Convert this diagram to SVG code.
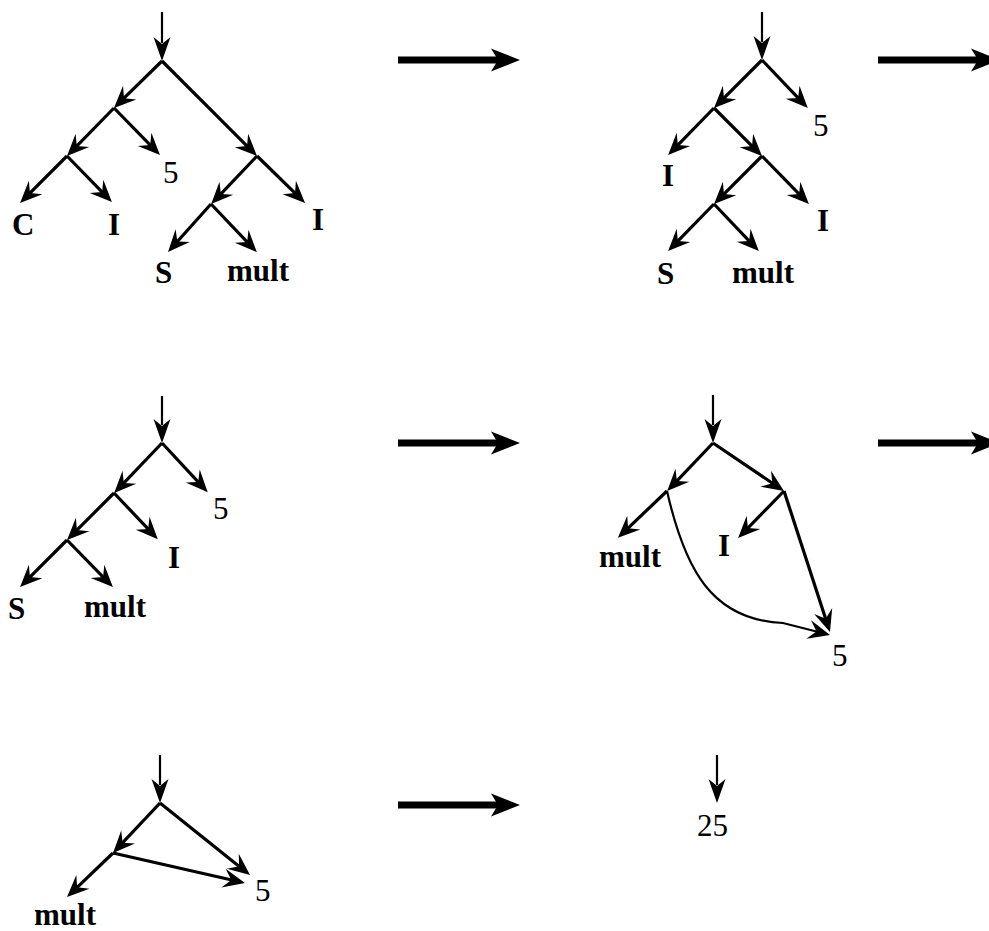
<svg xmlns="http://www.w3.org/2000/svg" width="989" height="931" viewBox="0 0 989 931">
<style>
.b{fill:none;stroke:#000;stroke-width:3.2;marker-end:url(#hb)}
.c{fill:none;stroke:#000;stroke-width:2.2;marker-end:url(#hb)}
.v{fill:none;stroke:#000;stroke-width:2.2;marker-end:url(#hv)}
.m{fill:none;stroke:#000;stroke-width:7;marker-end:url(#hm)}
text{font-family:"Liberation Serif","Times New Roman",serif;font-size:31px;fill:#000}
.L{font-weight:bold}
</style>
<defs>
<marker id="hb" markerUnits="userSpaceOnUse" markerWidth="40" markerHeight="40" refX="20" refY="20" orient="auto" overflow="visible"><path d="M29,20 L7,10.5 L15,20 L7,29.5 Z" fill="#000"/></marker>
<marker id="hv" markerUnits="userSpaceOnUse" markerWidth="40" markerHeight="40" refX="20" refY="20" orient="auto" overflow="visible"><path d="M38,20 L14,11.5 L21,20 L14,28.5 Z" fill="#000"/></marker>
<marker id="hm" markerUnits="userSpaceOnUse" markerWidth="50" markerHeight="40" refX="20" refY="20" orient="auto" overflow="visible"><path d="M38,20 L9,8.5 L16,20 L9,31.5 Z" fill="#000"/></marker>
</defs>
<g id="connectors">
<line class="m" x1="398" y1="60" x2="502" y2="60"/>
<line class="m" x1="878" y1="60" x2="982" y2="60"/>
<line class="m" x1="398" y1="443" x2="502" y2="443"/>
<line class="m" x1="878" y1="443" x2="982" y2="443"/>
<line class="m" x1="398" y1="805" x2="502" y2="805"/>
<line class="v" x1="162" y1="12" x2="162" y2="43"/>
<line class="b" x1="162" y1="61" x2="120.4" y2="101.7"/>
<line class="b" x1="114" y1="108" x2="153.7" y2="148.6"/>
<line class="b" x1="114" y1="108" x2="73.3" y2="149.6"/>
<line class="b" x1="67" y1="156" x2="26.4" y2="196.6"/>
<line class="b" x1="67" y1="156" x2="105.6" y2="195.6"/>
<line class="b" x1="162" y1="61" x2="250.6" y2="149.6"/>
<line class="b" x1="257" y1="156" x2="217.4" y2="197.6"/>
<line class="b" x1="257" y1="156" x2="298.6" y2="196.6"/>
<line class="b" x1="211" y1="204" x2="174" y2="245.3"/>
<line class="b" x1="211" y1="204" x2="250.6" y2="245.6"/>
<line class="v" x1="762" y1="12" x2="762" y2="42"/>
<line class="b" x1="762" y1="60" x2="720.4" y2="101.6"/>
<line class="b" x1="762" y1="60" x2="801.6" y2="101.6"/>
<line class="b" x1="714" y1="108" x2="674.4" y2="148.6"/>
<line class="b" x1="714" y1="108" x2="755.6" y2="149.6"/>
<line class="b" x1="762" y1="156" x2="720.4" y2="197.6"/>
<line class="b" x1="762" y1="156" x2="802.6" y2="197.6"/>
<line class="b" x1="714" y1="204" x2="674.4" y2="244.6"/>
<line class="b" x1="714" y1="204" x2="752.6" y2="244.6"/>
<line class="v" x1="162" y1="396" x2="162" y2="425"/>
<line class="b" x1="162" y1="443" x2="120.4" y2="486.6"/>
<line class="b" x1="162" y1="443" x2="201.6" y2="485.6"/>
<line class="b" x1="114" y1="493" x2="73.4" y2="533.6"/>
<line class="b" x1="114" y1="493" x2="151.6" y2="532.6"/>
<line class="b" x1="67" y1="540" x2="26.4" y2="580.6"/>
<line class="b" x1="67" y1="540" x2="106.6" y2="580.6"/>
<line class="v" x1="713" y1="395" x2="713" y2="425"/>
<line class="b" x1="713" y1="443" x2="673.4" y2="484.6"/>
<line class="b" x1="713" y1="443" x2="776.5" y2="486"/>
<line class="b" x1="667" y1="491" x2="624.4" y2="531.6"/>
<line class="b" x1="784" y1="491" x2="744.4" y2="531.6"/>
<line class="b" x1="784" y1="491" x2="827.2" y2="623.4"/>
<path class="c" d="M667,491 C685,570 712,620 783,623 L821.3,632.8"/>
<line class="v" x1="160" y1="755" x2="160" y2="785"/>
<line class="b" x1="160" y1="803" x2="119.2" y2="846.4"/>
<line class="b" x1="113" y1="853" x2="73.5" y2="890.8"/>
<line class="b" x1="160" y1="803" x2="243" y2="869.4"/>
<line class="b" x1="113" y1="853" x2="236.2" y2="881"/>
<line class="v" x1="717" y1="755" x2="717" y2="785"/>
</g>
<g id="tree1">
<g id="t1-5"><text x="163" y="183">5</text></g>
<g id="t1-C"><text class="L" x="12" y="235">C</text></g>
<g id="t1-I1"><text class="L" x="108" y="235">I</text></g>
<g id="t1-I2"><text class="L" x="312" y="230">I</text></g>
<g id="t1-S"><text class="L" x="155" y="283">S</text></g>
<g id="t1-mult"><text class="L" x="227" y="281">mult</text></g>
</g>
<g id="tree2">
<g id="t2-5"><text x="813" y="136">5</text></g>
<g id="t2-I1"><text class="L" x="662" y="186">I</text></g>
<g id="t2-I2"><text class="L" x="817" y="231">I</text></g>
<g id="t2-S"><text class="L" x="657" y="284">S</text></g>
<g id="t2-mult"><text class="L" x="732" y="283">mult</text></g>
</g>
<g id="tree3">
<g id="t3-5"><text x="213" y="519">5</text></g>
<g id="t3-I"><text class="L" x="168" y="568">I</text></g>
<g id="t3-S"><text class="L" x="8" y="619">S</text></g>
<g id="t3-mult"><text class="L" x="84" y="617">mult</text></g>
</g>
<g id="tree4">
<g id="t4-mult"><text class="L" x="599" y="567">mult</text></g>
<g id="t4-I"><text class="L" x="718" y="556">I</text></g>
<g id="t4-5"><text x="832" y="666">5</text></g>
</g>
<g id="tree5">
<g id="t5-mult"><text class="L" x="34" y="925">mult</text></g>
<g id="t5-5"><text x="255" y="901">5</text></g>
</g>
<g id="result">
<g id="r-25"><text x="697" y="836">25</text></g>
</g>
</svg>
